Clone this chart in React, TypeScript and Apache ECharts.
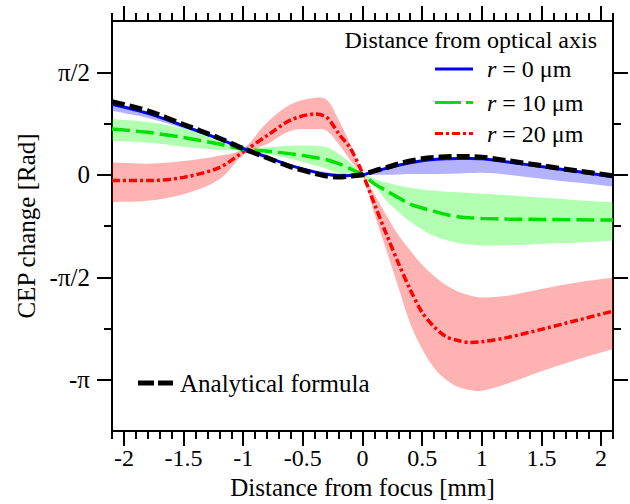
import React, { useEffect, useRef } from 'react';
import * as echarts from 'echarts';

// ---- data (x in mm, y in rad) ----
const X = [-2.1, -1.8, -1.5, -1.2, -1.0, -0.8, -0.6, -0.4, -0.3, -0.2, -0.1, 0, 0.1, 0.2, 0.3, 0.4, 0.5, 0.6, 0.7, 0.8, 0.9, 1.0, 1.2, 1.5, 1.8, 2.1];

const analytical = [1.12, 0.98, 0.77, 0.56, 0.40, 0.26, 0.12, 0.02, -0.02, -0.035, -0.02, 0.0, 0.06, 0.11, 0.165, 0.21, 0.245, 0.265, 0.275, 0.28, 0.278, 0.27, 0.22, 0.14, 0.06, -0.015];

const r0Mean = [1.08, 0.94, 0.75, 0.55, 0.40, 0.27, 0.14, 0.04, 0.005, -0.015, -0.01, 0.0, 0.05, 0.10, 0.145, 0.185, 0.215, 0.235, 0.245, 0.25, 0.25, 0.245, 0.2, 0.125, 0.05, -0.03];
const r0Upper = [1.09, 0.95, 0.76, 0.56, 0.40, 0.28, 0.16, 0.07, 0.04, 0.02, 0.01, 0.0, 0.05, 0.10, 0.145, 0.185, 0.215, 0.235, 0.245, 0.25, 0.25, 0.245, 0.2, 0.125, 0.05, -0.03];
const r0Lower = [0.98, 0.87, 0.71, 0.53, 0.39, 0.26, 0.13, 0.03, 0.0, -0.02, -0.015, -0.01, 0.0, 0.0, 0.005, 0.01, 0.01, 0.01, 0.015, 0.02, 0.025, 0.03, 0.005, -0.06, -0.12, -0.18];

const r10Mean = [0.70, 0.65, 0.57, 0.47, 0.39, 0.36, 0.32, 0.265, 0.23, 0.17, 0.09, 0.0, -0.14, -0.245, -0.35, -0.45, -0.51, -0.56, -0.61, -0.645, -0.66, -0.67, -0.68, -0.685, -0.69, -0.695];
const r10Upper = [0.855, 0.81, 0.71, 0.55, 0.41, 0.42, 0.445, 0.445, 0.42, 0.32, 0.18, 0.03, -0.06, -0.12, -0.165, -0.20, -0.225, -0.245, -0.26, -0.27, -0.28, -0.29, -0.31, -0.35, -0.39, -0.42];
const r10Lower = [0.52, 0.49, 0.43, 0.38, 0.37, 0.32, 0.24, 0.14, 0.09, 0.025, -0.02, -0.03, -0.17, -0.40, -0.57, -0.72, -0.84, -0.94, -1.0, -1.045, -1.07, -1.085, -1.08, -1.06, -1.04, -1.01];

const r20Mean = [-0.09, -0.09, -0.04, 0.11, 0.35, 0.60, 0.84, 0.93, 0.88, 0.63, 0.40, 0.02, -0.45, -0.91, -1.35, -1.76, -2.11, -2.33, -2.48, -2.54, -2.57, -2.56, -2.50, -2.37, -2.23, -2.09];
const r20Upper = [0.19, 0.17, 0.21, 0.29, 0.40, 0.80, 1.08, 1.18, 1.15, 0.84, 0.46, 0.04, -0.30, -0.62, -0.92, -1.16, -1.38, -1.55, -1.69, -1.79, -1.85, -1.88, -1.86, -1.75, -1.65, -1.58];
const r20Lower = [-0.42, -0.40, -0.30, -0.07, 0.30, 0.47, 0.675, 0.70, 0.675, 0.47, 0.215, -0.02, -0.60, -1.155, -1.72, -2.28, -2.67, -2.96, -3.14, -3.25, -3.30, -3.31, -3.21, -3.01, -2.83, -2.67];

// ---- axes ----
const X_MIN = -2.1;
const X_MAX = 2.1;
const xMajorTicks = [-2, -1.5, -1, -0.5, 0, 0.5, 1, 1.5, 2];
const xMinorTicks: number[] = [];
for (let i = -21; i <= 21; i++) if (i % 5 !== 0) xMinorTicks.push(i / 10);

const PI = Math.PI;
const Y_MIN = -5 * PI / 4;
const Y_MAX = 3 * PI / 4;
const yMajorTicks = [-PI, -PI / 2, 0, PI / 2];
const yMajorLabels = ['-π', '-π/2', '0', 'π/2'];
const yMinorTicks = [-3 * PI / 4, -PI / 4, PI / 4];

const FONT = "'Liberation Serif', 'DejaVu Serif', serif";

const xAxisName = 'Distance from focus [mm]';
const yAxisName = 'CEP change [Rad]';
const legendTitle = 'Distance from optical axis';
const legendItems = ['{i|r} = 0 μm', '{i|r} = 10 μm', '{i|r} = 20 μm'];
const analyticalLabel = 'Analytical formula';

function pairs(ys: number[]) {
  return X.map((x, i) => [x, ys[i]]);
}

function makeX(position: 'top' | 'bottom', ticks: number[], len: number, main: boolean, labels: boolean) {
  return {
    type: 'value',
    position,
    min: X_MIN,
    max: X_MAX,
    axisLine: { show: main, onZero: false, lineStyle: { color: '#000', width: 2 } },
    axisTick: { show: true, inside: false, length: len, customValues: ticks, lineStyle: { color: '#000', width: 2 } },
    axisLabel: labels
      ? { show: true, customValues: xMajorTicks, margin: 15, color: '#000', fontSize: 24, fontFamily: FONT, formatter: (v: number) => String(v) }
      : { show: false },
    splitLine: { show: false },
    name: labels ? xAxisName : '',
    nameLocation: 'middle',
    nameGap: 43,
    nameTextStyle: { color: '#000', fontSize: 25, fontFamily: FONT },
  };
}

function makeY(position: 'left' | 'right', ticks: number[], len: number, main: boolean, labels: boolean) {
  return {
    type: 'value',
    position,
    min: Y_MIN,
    max: Y_MAX,
    axisLine: { show: main, onZero: false, lineStyle: { color: '#000', width: 2 } },
    axisTick: { show: true, inside: false, length: len, customValues: ticks, lineStyle: { color: '#000', width: 2 } },
    axisLabel: labels
      ? {
          show: true,
          customValues: yMajorTicks,
          margin: 22,
          color: '#000',
          fontSize: 25,
          fontFamily: FONT,
          formatter: (v: number) => {
            const k = yMajorTicks.findIndex((t) => Math.abs(t - v) < 1e-6);
            return k >= 0 ? yMajorLabels[k] : '';
          },
        }
      : { show: false },
    splitLine: { show: false },
    name: labels ? yAxisName : '',
    nameLocation: 'middle',
    nameGap: 69,
    nameRotate: 90,
    nameTextStyle: { color: '#000', fontSize: 25, fontFamily: FONT },
  };
}

function band(upper: number[], lower: number[], color: string) {
  return {
    type: 'custom',
    silent: true,
    z: 1,
    xAxisIndex: 0,
    yAxisIndex: 0,
    data: [[X[0], upper[0]]],
    encode: { x: 0, y: 1 },
    renderItem: (_params: any, api: any) => {
      const top = X.map((x, i) => api.coord([x, upper[i]]));
      const bot = X.map((x, i) => api.coord([x, lower[i]])).reverse();
      const pts = [top[0], ...top, top[top.length - 1], bot[0], ...bot, bot[bot.length - 1]];
      return { type: 'polygon', shape: { points: pts, smooth: 0.35 }, style: { fill: color } };
    },
  };
}

function line(ys: number[], color: string, width: number, dash: any, z: number) {
  return {
    type: 'line',
    xAxisIndex: 0,
    yAxisIndex: 0,
    data: pairs(ys),
    symbol: 'none',
    showSymbol: false,
    smooth: 0.3,
    silent: true,
    z,
    lineStyle: { color, width, type: dash, cap: 'butt' },
  };
}

export default function App() {
  const ref = useRef<HTMLDivElement>(null);
  useEffect(() => {
    const chart = echarts.init(ref.current!, null, { renderer: 'svg' });
    const legendRowsY = [69, 102.5, 133.5];
    const legendColors = ['#0000ff', '#00e000', '#ff0000'];
    const legendDash: any[] = [null, [26, 5], [8, 3, 3, 3]];
    const graphic: any[] = [
      {
        type: 'text',
        x: 597,
        y: 40,
        style: { text: legendTitle, fill: '#000', fontSize: 24, fontFamily: FONT, align: 'right', verticalAlign: 'middle' },
      },
    ];
    legendRowsY.forEach((y, i) => {
      graphic.push({
        type: 'line',
        shape: { x1: 435, y1: y, x2: 473, y2: y },
        style: { stroke: legendColors[i], lineWidth: 3, lineDash: legendDash[i] || undefined },
      });
      graphic.push({
        type: 'text',
        x: 487,
        y,
        style: {
          text: legendItems[i],
          fill: '#000',
          fontSize: 24,
          fontFamily: FONT,
          align: 'left',
          verticalAlign: 'middle',
          rich: { i: { fontStyle: 'italic', fontSize: 24, fontFamily: FONT, fill: '#000' } },
        },
      });
    });
    graphic.push({
      type: 'line',
      shape: { x1: 138, y1: 383, x2: 173, y2: 383 },
      style: { stroke: '#000', lineWidth: 5, lineDash: [16, 4] },
    });
    graphic.push({
      type: 'text',
      x: 180,
      y: 383,
      style: { text: analyticalLabel, fill: '#000', fontSize: 25, fontFamily: FONT, align: 'left', verticalAlign: 'middle' },
    });

    const option: any = {
      animation: false,
      backgroundColor: '#fff',
      grid: { left: 112, right: 17, top: 21, bottom: 73, containLabel: false, outerBoundsMode: 'none' },
      xAxis: [
        makeX('bottom', xMajorTicks, 15, true, true),
        makeX('bottom', xMinorTicks, 8, false, false),
        makeX('top', xMajorTicks, 15, true, false),
        makeX('top', xMinorTicks, 8, false, false),
      ],
      yAxis: [
        makeY('left', yMajorTicks, 15, true, true),
        makeY('left', yMinorTicks, 8, false, false),
        makeY('right', yMajorTicks, 15, true, false),
        makeY('right', yMinorTicks, 8, false, false),
      ],
      series: [
        band(r0Upper, r0Lower, 'rgba(0,0,255,0.3)'),
        band(r10Upper, r10Lower, 'rgba(0,255,0,0.3)'),
        band(r20Upper, r20Lower, 'rgba(255,0,0,0.3)'),
        line(r20Mean, '#ff0000', 3.5, [8, 3, 3, 3], 3),
        line(r10Mean, '#00e000', 3.5, [18, 6], 3),
        line(r0Mean, '#0000ff', 3, 'solid', 4),
        line(analytical, '#000', 5, [13, 5], 5),
      ],
      graphic,
    };
    chart.setOption(option);
    return () => chart.dispose();
  }, []);
  return <div ref={ref} style={{ position: 'fixed', left: 0, top: 0, width: 630, height: 504, background: '#fff' }} />;
}
